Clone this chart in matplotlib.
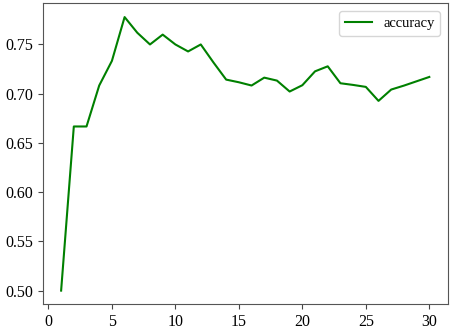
import matplotlib
matplotlib.use("Agg")
import matplotlib.pyplot as plt

epochs = list(range(1, 31))
accuracy = [0.5000, 0.6667, 0.6667, 0.7083, 0.7333, 0.7778, 0.7619, 0.7500, 0.7600, 0.7500,
            0.7429, 0.7500, 0.7317, 0.7143, 0.7116, 0.7083, 0.7163, 0.7133, 0.7022, 0.7086,
            0.7227, 0.7278, 0.7106, 0.7089, 0.7069, 0.6927, 0.7042, 0.7082, 0.7126, 0.7170]

plt.rcParams['font.family'] = ['Liberation Serif', 'DejaVu Serif']
plt.rcParams['font.size'] = 11

fig = plt.figure(figsize=(4.52, 3.31), dpi=100)
ax = fig.add_axes([0.0945, 0.0807, 0.896, 0.909])
ax.plot(epochs, accuracy, color='green', linewidth=1.5, label='accuracy')
ax.set_yticks([0.50, 0.55, 0.60, 0.65, 0.70, 0.75])
ax.set_xticks([0, 5, 10, 15, 20, 25, 30])
ax.tick_params(labelsize=11.5, color='#444444')
for s in ax.spines.values():
    s.set_color('#555555')
ax.legend(loc='upper right', fontsize=10.5, handlelength=1.8, borderaxespad=0.5)
fig.savefig('out.png', dpi=100)
